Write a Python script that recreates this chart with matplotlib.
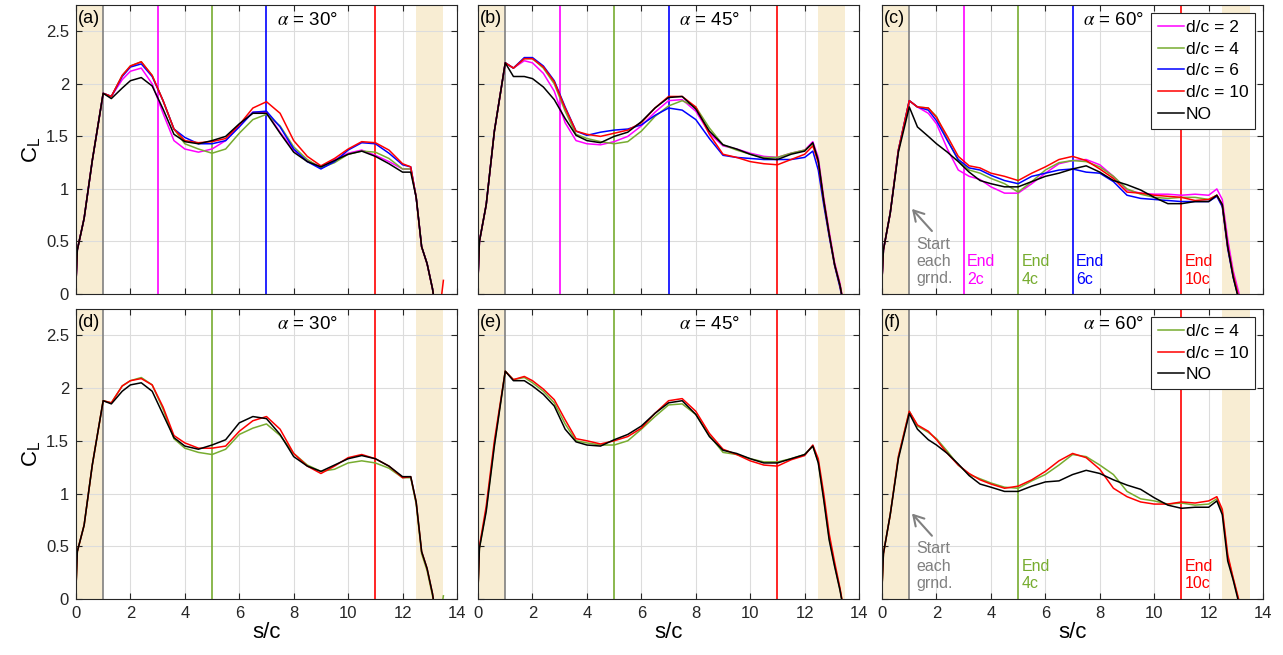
import matplotlib
matplotlib.use("Agg")
import matplotlib.pyplot as plt

plt.rcParams.update({
    "font.family": ["Liberation Sans", "DejaVu Sans"],
    "mathtext.fontset": "stix",
    "font.size": 12,
    "axes.edgecolor": "#262626",
    "axes.linewidth": 0.8,
    "xtick.direction": "in",
    "ytick.direction": "in",
    "xtick.top": True,
    "ytick.right": True,
    "xtick.color": "#262626",
    "ytick.color": "#262626",
    "xtick.major.size": 4,
    "ytick.major.size": 4,
    "xtick.labelsize": 12,
    "ytick.labelsize": 12,
})

# ── data: s/c stations shared by every curve ───────────────────
S = [0, 0.05, 0.3, 0.6, 1.0, 1.3, 1.7, 2.0, 2.4, 2.8, 3.2, 3.6, 4.0, 4.5, 5.0, 5.5,
     6.0, 6.5, 7.0, 7.5, 8.0, 8.5, 9.0, 9.5, 10.0, 10.5, 11.0, 11.5, 12.0, 12.3,
     12.5, 12.7, 12.9, 13.1, 13.3, 13.5]

# (a) alpha = 30
A_D2  = [0.1, 0.42, 0.72, 1.27, 1.91, 1.88, 2.04, 2.12, 2.15, 2.00, 1.72, 1.46, 1.38, 1.35, 1.38, 1.46,
         1.60, 1.73, 1.73, 1.54, 1.37, 1.27, 1.21, 1.28, 1.34, 1.37, 1.32, 1.26, 1.19, 1.19,
         0.92, 0.45, 0.29, 0.05, -0.3, -0.3]
A_D4  = [0.1, 0.42, 0.72, 1.27, 1.91, 1.88, 2.08, 2.17, 2.21, 2.08, 1.84, 1.57, 1.43, 1.38, 1.34, 1.38,
         1.53, 1.66, 1.71, 1.60, 1.40, 1.28, 1.20, 1.25, 1.33, 1.36, 1.35, 1.29, 1.19, 1.19,
         0.92, 0.45, 0.29, 0.05, -0.3, -0.3]
A_D6  = [0.1, 0.42, 0.72, 1.27, 1.91, 1.88, 2.07, 2.16, 2.19, 2.07, 1.84, 1.57, 1.49, 1.43, 1.43, 1.46,
         1.59, 1.73, 1.74, 1.59, 1.38, 1.26, 1.19, 1.26, 1.37, 1.44, 1.43, 1.34, 1.23, 1.21,
         0.92, 0.45, 0.29, 0.05, -0.3, -0.3]
A_D10 = [0.1, 0.42, 0.72, 1.27, 1.91, 1.88, 2.08, 2.17, 2.21, 2.08, 1.84, 1.57, 1.46, 1.44, 1.45, 1.48,
         1.61, 1.77, 1.83, 1.72, 1.46, 1.31, 1.22, 1.29, 1.38, 1.45, 1.44, 1.37, 1.24, 1.21,
         0.92, 0.45, 0.29, 0.05, -0.3, 0.13]
A_NO  = [0.1, 0.42, 0.72, 1.27, 1.91, 1.86, 1.96, 2.03, 2.06, 1.98, 1.76, 1.52, 1.45, 1.43, 1.46, 1.50,
         1.62, 1.72, 1.72, 1.53, 1.35, 1.26, 1.21, 1.27, 1.33, 1.36, 1.31, 1.24, 1.16, 1.16,
         0.92, 0.45, 0.29, 0.05, -0.3, -0.3]

# (b) alpha = 45
B_D2  = [0.15, 0.5, 0.85, 1.55, 2.20, 2.15, 2.22, 2.20, 2.10, 1.93, 1.63, 1.46, 1.43, 1.42, 1.45, 1.50,
         1.60, 1.73, 1.84, 1.85, 1.74, 1.53, 1.41, 1.38, 1.34, 1.31, 1.30, 1.34, 1.37, 1.45,
         1.30, 0.92, 0.60, 0.30, 0.10, -0.2]
B_D4  = [0.15, 0.5, 0.85, 1.55, 2.20, 2.15, 2.24, 2.24, 2.15, 2.00, 1.74, 1.52, 1.48, 1.45, 1.43, 1.45,
         1.55, 1.69, 1.79, 1.84, 1.78, 1.58, 1.42, 1.37, 1.33, 1.30, 1.30, 1.34, 1.37, 1.43,
         1.27, 0.89, 0.57, 0.28, 0.08, -0.2]
B_D6  = [0.15, 0.5, 0.85, 1.55, 2.20, 2.15, 2.25, 2.25, 2.17, 2.03, 1.78, 1.55, 1.51, 1.54, 1.56, 1.57,
         1.61, 1.70, 1.77, 1.75, 1.66, 1.48, 1.32, 1.30, 1.29, 1.28, 1.28, 1.28, 1.30, 1.36,
         1.18, 0.85, 0.55, 0.27, 0.06, -0.2]
B_D10 = [0.15, 0.5, 0.85, 1.55, 2.20, 2.15, 2.24, 2.24, 2.16, 2.02, 1.77, 1.55, 1.52, 1.50, 1.53, 1.56,
         1.63, 1.77, 1.88, 1.88, 1.78, 1.52, 1.33, 1.30, 1.26, 1.24, 1.23, 1.28, 1.33, 1.41,
         1.25, 0.89, 0.57, 0.28, 0.08, -0.2]
B_NO  = [0.15, 0.5, 0.85, 1.55, 2.20, 2.07, 2.07, 2.05, 1.97, 1.85, 1.67, 1.51, 1.46, 1.44, 1.50, 1.54,
         1.64, 1.77, 1.87, 1.88, 1.76, 1.55, 1.42, 1.38, 1.33, 1.29, 1.28, 1.33, 1.36, 1.44,
         1.27, 0.89, 0.57, 0.28, 0.08, -0.2]

# (c) alpha = 60
C_D2  = [0.15, 0.42, 0.77, 1.37, 1.84, 1.78, 1.72, 1.62, 1.38, 1.18, 1.12, 1.09, 1.02, 0.96, 0.96, 1.05,
         1.15, 1.24, 1.27, 1.28, 1.23, 1.12, 0.99, 0.96, 0.95, 0.95, 0.94, 0.95, 0.94, 1.00,
         0.90, 0.52, 0.22, 0.02, -0.2, -0.3]
C_D4  = [0.15, 0.42, 0.77, 1.37, 1.84, 1.78, 1.77, 1.69, 1.47, 1.27, 1.18, 1.15, 1.10, 1.05, 0.97, 1.07,
         1.18, 1.25, 1.27, 1.26, 1.21, 1.12, 1.00, 0.95, 0.92, 0.91, 0.92, 0.92, 0.90, 0.94,
         0.85, 0.45, 0.18, -0.03, -0.2, -0.3]
C_D6  = [0.15, 0.42, 0.77, 1.37, 1.84, 1.78, 1.75, 1.65, 1.46, 1.28, 1.20, 1.18, 1.13, 1.08, 1.05, 1.12,
         1.15, 1.18, 1.19, 1.16, 1.15, 1.07, 0.94, 0.91, 0.90, 0.89, 0.88, 0.88, 0.88, 0.93,
         0.83, 0.43, 0.16, -0.04, -0.2, -0.3]
C_D10 = [0.15, 0.42, 0.77, 1.37, 1.84, 1.78, 1.77, 1.68, 1.50, 1.31, 1.22, 1.20, 1.15, 1.12, 1.08, 1.15,
         1.21, 1.28, 1.31, 1.27, 1.19, 1.10, 0.97, 0.96, 0.94, 0.93, 0.92, 0.89, 0.90, 0.94,
         0.85, 0.45, 0.18, -0.03, -0.2, -0.3]
C_NO  = [0.15, 0.42, 0.77, 1.35, 1.78, 1.59, 1.50, 1.43, 1.35, 1.26, 1.16, 1.08, 1.05, 1.02, 1.02, 1.07,
         1.12, 1.15, 1.19, 1.22, 1.16, 1.08, 1.04, 0.99, 0.92, 0.86, 0.86, 0.88, 0.88, 0.94,
         0.85, 0.45, 0.16, -0.05, -0.2, -0.3]

# (d) alpha = 30, reduced set
D_D4  = [0.1, 0.45, 0.7, 1.27, 1.88, 1.86, 2.02, 2.07, 2.10, 2.03, 1.80, 1.52, 1.43, 1.39, 1.37, 1.42,
         1.56, 1.62, 1.66, 1.55, 1.38, 1.27, 1.21, 1.23, 1.29, 1.31, 1.29, 1.24, 1.15, 1.15,
         0.90, 0.43, 0.27, 0.03, -0.3, 0.03]
D_D10 = [0.1, 0.45, 0.7, 1.27, 1.88, 1.86, 2.02, 2.07, 2.09, 2.03, 1.82, 1.55, 1.48, 1.43, 1.43, 1.45,
         1.59, 1.69, 1.73, 1.61, 1.38, 1.26, 1.19, 1.26, 1.34, 1.37, 1.33, 1.26, 1.15, 1.16,
         0.92, 0.45, 0.29, 0.05, -0.3, -0.3]
D_NO  = [0.1, 0.45, 0.7, 1.27, 1.88, 1.85, 1.97, 2.03, 2.05, 1.97, 1.75, 1.53, 1.45, 1.42, 1.46, 1.51,
         1.67, 1.73, 1.71, 1.56, 1.35, 1.26, 1.21, 1.27, 1.33, 1.36, 1.33, 1.26, 1.16, 1.16,
         0.92, 0.45, 0.29, 0.05, -0.3, -0.3]

# (e) alpha = 45
E_D4  = [0.1, 0.48, 0.85, 1.47, 2.16, 2.08, 2.10, 2.05, 1.97, 1.86, 1.66, 1.50, 1.48, 1.46, 1.46, 1.50,
         1.61, 1.73, 1.84, 1.85, 1.75, 1.55, 1.39, 1.37, 1.33, 1.30, 1.30, 1.33, 1.37, 1.45,
         1.30, 0.96, 0.58, 0.32, 0.09, -0.2]
E_D10 = [0.1, 0.5, 0.88, 1.50, 2.16, 2.08, 2.11, 2.07, 1.99, 1.89, 1.70, 1.52, 1.50, 1.47, 1.50, 1.54,
         1.62, 1.76, 1.88, 1.90, 1.78, 1.57, 1.42, 1.37, 1.31, 1.27, 1.26, 1.32, 1.36, 1.46,
         1.33, 1.00, 0.62, 0.35, 0.10, -0.2]
E_NO  = [0.1, 0.48, 0.83, 1.45, 2.16, 2.07, 2.07, 2.02, 1.94, 1.83, 1.61, 1.49, 1.46, 1.45, 1.51, 1.56,
         1.64, 1.76, 1.86, 1.88, 1.75, 1.54, 1.41, 1.38, 1.33, 1.29, 1.29, 1.33, 1.37, 1.45,
         1.29, 0.94, 0.56, 0.31, 0.08, -0.2]

# (f) alpha = 60
F_D4  = [0.12, 0.43, 0.8, 1.35, 1.78, 1.64, 1.58, 1.52, 1.40, 1.27, 1.18, 1.14, 1.10, 1.06, 1.05, 1.12,
         1.18, 1.27, 1.37, 1.35, 1.27, 1.18, 1.02, 0.95, 0.93, 0.90, 0.91, 0.89, 0.90, 0.95,
         0.83, 0.40, 0.19, -0.01, -0.3, -0.3]
F_D10 = [0.12, 0.43, 0.8, 1.35, 1.78, 1.65, 1.59, 1.51, 1.38, 1.27, 1.19, 1.13, 1.09, 1.05, 1.07, 1.13,
         1.21, 1.31, 1.38, 1.34, 1.23, 1.05, 0.97, 0.92, 0.90, 0.90, 0.92, 0.91, 0.93, 0.97,
         0.85, 0.42, 0.20, 0.00, -0.3, -0.3]
F_NO  = [0.12, 0.43, 0.8, 1.33, 1.76, 1.61, 1.51, 1.46, 1.38, 1.28, 1.17, 1.09, 1.06, 1.02, 1.02, 1.07,
         1.11, 1.12, 1.18, 1.22, 1.19, 1.13, 1.08, 1.04, 0.96, 0.89, 0.86, 0.87, 0.87, 0.93,
         0.80, 0.36, 0.18, -0.03, -0.3, -0.3]

ANGLES   = [30, 45, 60]
END_POS  = {"d/c = 2": 3, "d/c = 4": 5, "d/c = 6": 7, "d/c = 10": 11}
END_TEXT = {"d/c = 2": "End\n2c", "d/c = 4": "End\n4c", "d/c = 6": "End\n6c", "d/c = 10": "End\n10c"}

magenta = "#FF00FF"
green   = "#77AC30"
blue    = "#0000FF"
red     = "#FF0000"
gray    = "#808080"
shade   = "#F8EDD3"
COLORS  = {"d/c = 2": magenta, "d/c = 4": green, "d/c = 6": blue, "d/c = 10": red, "NO": "k"}

TOP = [
    {"d/c = 2": A_D2, "d/c = 4": A_D4, "d/c = 6": A_D6, "d/c = 10": A_D10, "NO": A_NO},
    {"d/c = 2": B_D2, "d/c = 4": B_D4, "d/c = 6": B_D6, "d/c = 10": B_D10, "NO": B_NO},
    {"d/c = 2": C_D2, "d/c = 4": C_D4, "d/c = 6": C_D6, "d/c = 10": C_D10, "NO": C_NO},
]
BOTTOM = [
    {"d/c = 4": D_D4, "d/c = 10": D_D10, "NO": D_NO},
    {"d/c = 4": E_D4, "d/c = 10": E_D10, "NO": E_NO},
    {"d/c = 4": F_D4, "d/c = 10": F_D10, "NO": F_NO},
]

fig = plt.figure(figsize=(12.83, 6.55), dpi=100)

lefts   = [0.0592, 0.3726, 0.6875]
width   = 0.2970
rows    = [(0.5511, 0.4412), (0.0855, 0.4428)]
letters = [["(a)", "(b)", "(c)"], ["(d)", "(e)", "(f)"]]

for r, panels in enumerate([TOP, BOTTOM]):
    bottom, height = rows[r]
    for c, series in enumerate(panels):
        ax = fig.add_axes([lefts[c], bottom, width, height])
        ax.axvspan(0, 1, color=shade, lw=0, zorder=0)
        ax.axvspan(12.5, 13.5, color=shade, lw=0, zorder=0)
        ax.grid(True, color="#DCDCDC", lw=0.8, zorder=0.5)
        ax.set_axisbelow(True)

        ax.axvline(1, color=gray, lw=1.2, zorder=1)
        for name in series:
            if name in END_POS:
                ax.axvline(END_POS[name], color=COLORS[name], lw=1.2, zorder=1)

        for name, vals in series.items():
            ax.plot(S, vals, color=COLORS[name], lw=1.1, label=name, zorder=2)

        ax.set_xlim(0, 14)
        ax.set_ylim(0, 2.75)
        ax.set_xticks(range(0, 15, 2))
        ax.set_yticks([0, 0.5, 1, 1.5, 2, 2.5])
        ax.set_yticklabels(["0", "0.5", "1", "1.5", "2", "2.5"])
        ax.tick_params(pad=5)
        if c > 0:
            ax.tick_params(labelleft=False)
        else:
            ax.set_ylabel(r"$\mathregular{C_L}$", fontsize=16, labelpad=2)
        if r == 0:
            ax.tick_params(labelbottom=False)
        else:
            ax.set_xlabel("s/c", fontsize=16, labelpad=1)

        ax.text(0.006, 0.955, letters[r][c], transform=ax.transAxes,
                fontsize=13, va="center", ha="left")
        ax.text(8.5, 2.6, rf"$\alpha$ = {ANGLES[c]}°", fontsize=13.5,
                ha="center", va="center")

        if c == 2:
            leg = ax.legend(loc="upper right", fontsize=12.5, frameon=True,
                            fancybox=False, edgecolor="#262626", framealpha=1,
                            handlelength=1.5, handletextpad=0.1,
                            labelspacing=0.38, borderpad=0.4, borderaxespad=0.45)
            leg.get_frame().set_linewidth(0.8)

            ax.annotate("", xy=(1.03, 0.83), xytext=(1.9, 0.58),
                        arrowprops=dict(arrowstyle="->,head_length=0.6,head_width=0.35",
                                        color=gray, lw=1.5))
            ax.text(1.25, 0.31, "Start\neach\ngrnd.", color=gray, fontsize=11.5,
                    ha="left", va="center", linespacing=1.2)
            for name in series:
                if name in END_POS:
                    ax.text(END_POS[name] + 0.12, 0.225, END_TEXT[name],
                            color=COLORS[name], fontsize=11.5,
                            ha="left", va="center", linespacing=1.2)

fig.savefig("out.png", dpi=100, facecolor="white")
